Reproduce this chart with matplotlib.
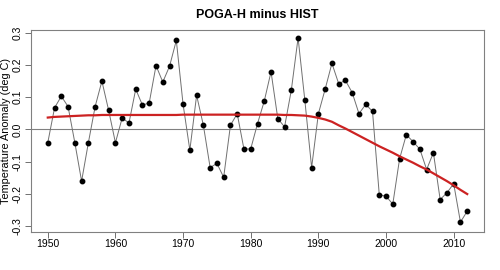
import numpy as np
import matplotlib
matplotlib.use("Agg")
import matplotlib.pyplot as plt

plt.rcParams['font.family'] = ['Liberation Sans', 'DejaVu Sans']

years = list(range(1950, 2013))

# POGA-H minus HIST annual anomaly (deg C)
anomaly = [-0.041, 0.067, 0.103, 0.071, -0.041, -0.160, -0.041, 0.071, 0.150, 0.059,
           -0.041, 0.036, 0.020, 0.125, 0.075, 0.083, 0.198, 0.147, 0.196, 0.276,
           0.078, -0.064, 0.106, 0.013, -0.118, -0.105, -0.148, 0.013, 0.049, -0.061,
           -0.060, 0.018, 0.088, 0.179, 0.034, 0.008, 0.122, 0.284, 0.090, -0.118,
           0.049, 0.125, 0.205, 0.142, 0.152, 0.114, 0.049, 0.078, 0.056, -0.202,
           -0.207, -0.231, -0.091, -0.016, -0.038, -0.061, -0.124, -0.072, -0.217, -0.196,
           -0.168, -0.287, -0.253]

# smoothed curve (red)
smooth = [0.037, 0.039, 0.040, 0.041, 0.042, 0.043, 0.044, 0.044, 0.045, 0.045,
          0.045, 0.045, 0.045, 0.045, 0.045, 0.045, 0.045, 0.045, 0.045, 0.045,
          0.046, 0.046, 0.046, 0.046, 0.046, 0.046, 0.046, 0.046, 0.046, 0.046,
          0.046, 0.046, 0.046, 0.046, 0.046, 0.045, 0.045, 0.044, 0.043, 0.040,
          0.036, 0.031, 0.024, 0.013, 0.003, -0.008, -0.019, -0.030, -0.041, -0.052,
          -0.062, -0.072, -0.083, -0.093, -0.103, -0.114, -0.124, -0.136, -0.148, -0.160,
          -0.173, -0.187, -0.200]

xticks = [1950, 1960, 1970, 1980, 1990, 2000, 2010]
yticks = [-0.3, -0.2, -0.1, 0.0, 0.1, 0.2, 0.3]

fig = plt.figure(figsize=(5, 2.7), dpi=100)
ax = fig.add_axes([0.062, 0.142, 0.906, 0.746])

ax.axhline(0, color='#808080', lw=0.8, zorder=1)
ax.plot(years, anomaly, color='#707070', lw=0.7, zorder=2)
ax.plot(years, anomaly, 'o', color='black', ms=3.2, zorder=3)
ax.plot(years, smooth, color='#cc2222', lw=1.6, zorder=4)

ax.set_xlim(1947.52, 2014.48)
ax.set_ylim(-0.3165, 0.3075)
ax.set_xticks(xticks)
ax.set_yticks(yticks)
ax.set_yticklabels(['%.1f' % v for v in yticks], rotation=90, va='center')
ax.tick_params(direction='out', length=4, width=0.7, color='#707070',
               labelsize=7.5)
ax.tick_params(axis='x', pad=1.5)
ax.tick_params(axis='y', pad=2)
for s in ax.spines.values():
    s.set_color('#808080')
    s.set_linewidth(0.8)

ax.set_ylabel('Temperature Anomaly (deg C)', fontsize=7.8, labelpad=1)
ax.set_title('POGA-H minus HIST', fontsize=9, fontweight='bold', pad=9)

fig.savefig('out.png', dpi=100)
